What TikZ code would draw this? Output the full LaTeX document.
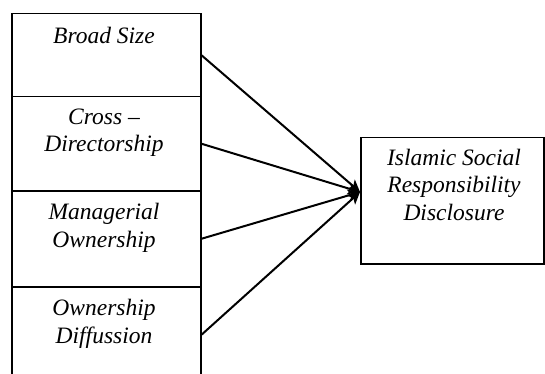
\documentclass[tikz,border=0pt]{standalone}
\usepackage{fontspec}
\setmainfont{Liberation Serif}
\usetikzlibrary{arrows.meta}
\begin{document}
\begin{tikzpicture}[x=1pt,y=-1pt,
  box/.style={draw, line width=1.5pt, minimum width=189pt, inner sep=0pt, anchor=north west},
  lbl/.style={font=\fontsize{23.5}{27.5}\selectfont\itshape, align=center, inner sep=0pt, anchor=base},
  arr/.style={line width=2pt, -{Stealth[length=12pt,width=12pt,inset=3pt]}}]
\useasboundingbox (0,0) rectangle (545,374);
\begin{scope}
\clip (0,0) rectangle (545,374);
\node[box, minimum height=83pt] (b1) at (11,13) {};
\node[box, minimum height=94pt] (b2) at (11,96) {};
\node[box, minimum height=96pt] (b3) at (11,190) {};
\node[box, minimum height=96pt] (b4) at (11,286) {};
\node[draw, line width=1.5pt, minimum width=183pt, minimum height=126pt, inner sep=0pt, anchor=north west] (t) at (360,137) {};
\end{scope}
\node[lbl] (l1) at (104,44) {Broad Size};
\node[lbl] (l2) at (104,152) {Cross –\\Directorship};
\node[lbl] (l3) at (104,247) {Managerial\\Ownership};
\node[lbl] (l4) at (104,343) {Ownership\\Diffussion};
\node[lbl] (lt) at (454,220) {Islamic Social\\Responsibility\\Disclosure};
\coordinate (tip) at (360,192);
\draw[arr] (b1.east) -- (tip);
\draw[arr] (b2.east) -- (tip);
\draw[arr] (b3.east) -- (tip);
\draw[arr] (b4.east) -- (tip);
\end{tikzpicture}
\end{document}
